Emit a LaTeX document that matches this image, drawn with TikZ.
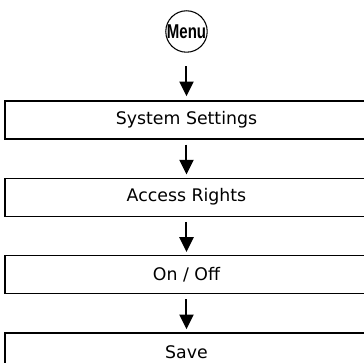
\documentclass[tikz,border=0pt]{standalone}
\usepackage{fontspec}
\setmainfont{DejaVu Sans}
\newfontfamily\menufont[FakeStretch=0.75]{Liberation Sans}
\usetikzlibrary{arrows.meta,positioning,calc}

\begin{document}
\begin{tikzpicture}[
    node distance=28.5pt,
    stepbox/.style={rectangle, draw=black, line width=1pt, fill=white,
                    minimum width=272.25pt, minimum height=28.5pt,
                    inner sep=0pt, font=\fontsize{13}{15}\selectfont},
    startn/.style={circle, draw=black, line width=0.8pt, minimum size=30pt,
                   inner sep=0pt, font=\menufont\bfseries\fontsize{15}{16}\selectfont},
    flow/.style={-{Triangle[width=10.5pt,length=11pt]}, line width=1.5pt},
    >=Stealth
  ]

  %% Page (Menu sits at the origin)
  \useasboundingbox (-139.875pt,23.625pt) rectangle (133.125pt,-248.625pt);

  %% Start
  \node[startn] (menu) at (0,0) {Menu};

  %% Steps
  \node[stepbox, below=35.6pt of menu] (settings) {System Settings};
  \node[stepbox, below=of settings] (rights) {Access Rights};
  \node[stepbox, below=of rights] (onoff) {On / Off};
  \node[stepbox, below=of onoff] (save) {Save};

  %% Arrows
  \draw[flow, shorten <=10pt, shorten >=3pt] (menu) -- (settings);
  \draw[flow, shorten <=3.75pt, shorten >=2.25pt] (settings) -- (rights);
  \draw[flow, shorten <=3.75pt, shorten >=2.25pt] (rights) -- (onoff);
  \draw[flow, shorten <=3.75pt, shorten >=2.25pt] (onoff) -- (save);

\end{tikzpicture}
\end{document}
